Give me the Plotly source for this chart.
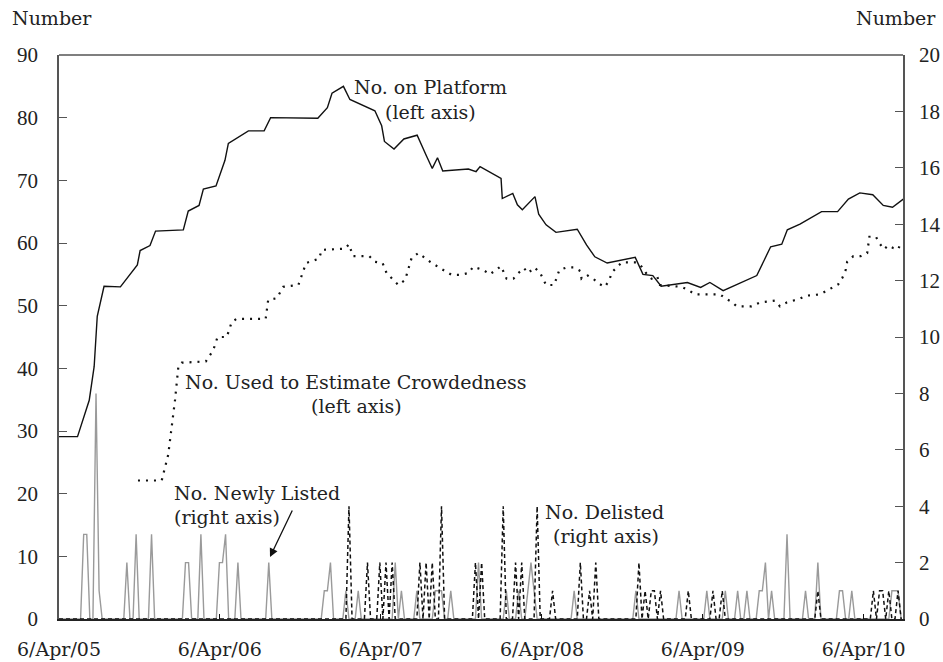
import datetime as dt
import numpy as np
import plotly.graph_objects as go

# ---------------- data ----------------
START = dt.datetime(2005, 4, 6)
N_WEEKS = 274  # weekly observations from 6 Apr 2005

# No. on Platform (left axis): weeks since 6 Apr 2005, values
platform_weeks = [0, 6.0, 9.8, 11.4, 12.4, 14.6, 19.9, 25.4, 26.3, 29.5, 31.3, 40.3, 41.9, 45.4, 46.8,
                  50.9, 53.8, 54.9, 61.4, 66.5, 68.6, 83.9, 87.0, 88.5, 92.2, 94.3, 102.4, 104.6, 105.5,
                  108.6, 111.8, 116.1, 119.2, 121.0, 122.7, 124.4, 132.7, 135.2, 136.5, 143.3, 143.7,
                  147.1, 148.6, 150.2, 154.3, 155.5, 157.9, 161.1, 168.0, 171.0, 173.7, 177.7, 186.8,
                  189.3, 192.5, 195.2, 203.7, 208.0, 211.0, 215.3, 226.2, 230.7, 234.3, 236.1, 240.2,
                  247.2, 252.4, 255.9, 259.6, 263.8, 267.2, 270.2, 273.7]
platform_vals = [29.1, 29.1, 34.9, 40.3, 48.3, 53.1, 53.0, 56.5, 58.8, 59.6, 61.9, 62.1, 65.1, 66.0, 68.6,
                 69.1, 73.2, 75.9, 77.9, 77.9, 80.0, 79.9, 81.6, 83.9, 85.0, 82.9, 81.1, 78.7, 76.2,
                 75.0, 76.6, 77.2, 73.8, 71.9, 73.6, 71.5, 71.8, 71.4, 72.2, 70.3, 67.1,
                 67.9, 66.1, 65.3, 67.4, 64.6, 62.9, 61.7, 62.2, 59.7, 57.8, 56.8, 57.7,
                 55.0, 54.8, 53.1, 53.7, 52.9, 53.7, 52.4, 54.8, 59.4, 59.8, 62.1, 63.0,
                 65.0, 65.0, 67.0, 68.0, 67.7, 66.0, 65.7, 67.0]

# No. Used to Estimate Crowdedness (left axis)
crowd_weeks = [25.6, 33.3, 35.4, 36.7, 37.6, 38.7, 39.8, 47.6, 50.0, 51.4, 54.4, 56.0, 57.6, 67.0, 67.8,
               70.6, 72.7, 77.6, 80.1, 84.3, 85.2, 92.7, 94.0, 95.3, 100.6, 102.4, 104.9, 106.2, 110.0,
               112.2, 114.3, 116.5, 120.3, 123.5, 127.3, 130.0, 132.7, 134.3, 137.5, 139.7, 143.3,
               145.1, 147.3, 148.9, 150.7, 152.1, 154.1, 155.9, 157.9, 160.5, 162.2, 164.6, 167.0,
               169.1, 169.4, 171.4, 173.2, 175.0, 177.0, 178.4, 179.2, 180.8, 182.4, 187.3, 188.9,
               190.3, 192.1, 193.9, 194.8, 201.8, 204.0, 206.2, 214.3, 215.9, 218.1, 219.7, 224.5,
               227.2, 232.1, 233.7, 235.9, 240.0, 242.4, 246.7, 249.9, 252.6, 254.0, 255.1, 255.5,
               257.5, 259.9, 262.0, 262.7, 264.8, 265.9, 267.4, 268.8, 270.4, 272.1, 273.0]
crowd_vals = [22.1, 22.1, 26.2, 31.2, 34.9, 40.3, 40.9, 41.1, 42.9, 45.0, 45.0, 47.4, 47.9, 47.9, 50.9,
              51.2, 53.0, 53.3, 56.8, 57.5, 58.9, 59.1, 59.8, 57.9, 57.9, 57.0, 56.8, 55.2, 53.3,
              54.1, 57.6, 58.4, 57.0, 56.0, 54.9, 54.9, 55.2, 56.2, 55.7, 55.0, 56.3,
              54.3, 54.3, 55.2, 56.0, 55.2, 56.1, 55.3, 53.3, 53.3, 55.7, 56.1, 56.1,
              55.5, 54.3, 54.8, 54.3, 53.5, 53.0, 54.1, 55.3, 56.1, 56.9, 56.9, 56.2,
              55.2, 54.3, 54.7, 53.3, 53.0, 52.5, 51.8, 51.8, 51.2, 50.6, 49.9, 49.9,
              50.5, 50.8, 49.9, 50.5, 51.1, 51.6, 51.8, 52.6, 53.4, 54.5, 55.8, 57.0,
              57.9, 57.9, 58.4, 61.0, 61.0, 60.0, 59.0, 59.6, 59.2, 59.0, 60.3]

# No. Newly Listed (right axis): week index -> count (all other weeks zero)
listed_weeks = [8, 9, 12, 13, 22, 25, 30, 41, 42, 46, 52, 53, 54, 58, 68, 86, 87, 88, 93, 97,
                109, 111, 116, 122, 123, 124, 127, 136, 145, 149, 152, 153, 154, 167, 187,
                201, 210, 216, 220, 223, 227, 228, 229, 231, 236, 242, 246, 253, 254, 257,
                270, 271, 272]
listed_vals = [3, 3, 8, 1, 2, 3, 3, 2, 2, 3, 2, 2, 3, 2, 2, 1, 1, 2, 1, 1,
               2, 1, 1, 1, 1, 1, 1, 2, 1, 1, 1, 2, 1, 1, 1,
               1, 1, 1, 1, 1, 1, 1, 2, 1, 3, 1, 2, 1, 1, 1,
               1, 1, 1]

# No. Delisted (right axis)
delisted_weeks = [94, 100, 104, 106, 108, 117, 119, 121, 124, 135, 137, 144, 148, 150, 155, 160,
                  169, 172, 174, 188, 190, 192, 193, 195, 204, 212, 215, 246, 264, 266, 267, 269, 272]
delisted_vals = [4, 2, 2, 2, 2, 2, 2, 2, 4, 2, 2, 4, 2, 2, 4, 1,
                 2, 1, 2, 2, 1, 1, 1, 1, 1, 1, 1, 1, 1, 1, 1, 1, 1]

tick_dates = ["2005-04-06", "2006-04-06", "2007-04-06", "2008-04-06", "2009-04-06", "2010-04-06"]
tick_text = ["6/Apr/05", "6/Apr/06", "6/Apr/07", "6/Apr/08", "6/Apr/09", "6/Apr/10"]

# ---------------- build ----------------
def to_dates(weeks):
    return [START + dt.timedelta(days=7 * w) for w in weeks]

week_dates = to_dates(range(N_WEEKS))
listed = np.zeros(N_WEEKS)
listed[listed_weeks] = listed_vals
delisted = np.zeros(N_WEEKS)
delisted[delisted_weeks] = delisted_vals

FONT = "DejaVu Serif"
NUMFONT = "Liberation Serif"
TXT = "#222222"

fig = go.Figure()
fig.add_trace(go.Scatter(x=week_dates, y=listed, yaxis="y2", mode="lines",
                         line=dict(color="#9a9a9a", width=1.4), name="No. Newly Listed"))
fig.add_trace(go.Scatter(x=week_dates, y=delisted, yaxis="y2", mode="lines",
                         line=dict(color="#111111", width=1.5, dash="4px,3px"), name="No. Delisted"))
fig.add_trace(go.Scatter(x=to_dates(platform_weeks), y=platform_vals, mode="lines",
                         line=dict(color="#111111", width=1.4), name="No. on Platform"))
fig.add_trace(go.Scatter(x=to_dates(crowd_weeks), y=crowd_vals, mode="lines",
                         line=dict(color="#111111", width=2.2, dash="2px,6px"),
                         name="No. Used to Estimate Crowdedness"))

L, R, T, B = 59, 903, 55, 619
W, H = 943, 662

def px(x, y):
    return (x - L) / (R - L), (B - y) / (B - T)

annots = []
def text(s, x, y, xanchor="center"):
    ax_, ay_ = px(x, y)
    annots.append(dict(text=s, x=ax_, y=ay_, xref="paper", yref="paper", showarrow=False,
                       xanchor=xanchor, yanchor="middle", font=dict(family=FONT, size=19, color=TXT)))

text("Number", 52, 18)
text("Number", 896, 18)
text("No. on Platform", 430, 87)
text("(left axis)", 430, 112)
text("No. Used to Estimate Crowdedness", 356, 382)
text("(left axis)", 356, 406)
text("No. Newly Listed", 172, 493, "left")
text("(right axis)", 172, 517, "left")
text("No. Delisted", 543, 512, "left")
text("(right axis)", 551, 536, "left")

tx, ty = px(270, 557)
annots.append(dict(text="", x=tx, y=ty, xref="paper", yref="paper", showarrow=True,
                   ax=23, ay=-48, arrowhead=2, arrowsize=1.3, arrowwidth=1.3, arrowcolor="#111111"))

axis_line = "#555555"
xtickfont = dict(family=FONT, size=19, color=TXT)
ytickfont = dict(family=NUMFONT, size=21, color=TXT)
fig.update_layout(
    width=W, height=H,
    margin=dict(l=L, r=W - R, t=T, b=H - B, autoexpand=False),
    paper_bgcolor="white", plot_bgcolor="white",
    showlegend=False,
    font=dict(family=FONT, size=19, color=TXT),
    xaxis=dict(type="date", range=[START, START + dt.timedelta(days=7 * 273.6)],
               tickvals=tick_dates, ticktext=tick_text, ticks="inside", ticklen=5,
               tickcolor="#111111", showgrid=False, zeroline=False, automargin=False,
               showline=True, linecolor="#222222", linewidth=2, ticklabelstandoff=12,
               tickfont=xtickfont),
    yaxis=dict(range=[0, 90], dtick=10, ticks="inside", ticklen=8, tickcolor=axis_line,
               showgrid=False, zeroline=False, showline=True, linecolor=axis_line, linewidth=1.5,
               automargin=False, ticklabelstandoff=15, tickfont=ytickfont),
    yaxis2=dict(range=[0, 20], dtick=2, overlaying="y", side="right", ticks="inside", ticklen=8,
                tickcolor=axis_line, showgrid=False, zeroline=False, showline=True,
                linecolor=axis_line, linewidth=1.5, automargin=False, ticklabelstandoff=10,
                tickfont=ytickfont),
    annotations=annots,
    shapes=[dict(type="line", xref="paper", yref="paper", x0=0, x1=1, y0=1, y1=1,
                 line=dict(color=axis_line, width=1.5))],
)

fig.write_html("out.html", config={"displayModeBar": False},
               post_script="document.body.style.margin='0';")
